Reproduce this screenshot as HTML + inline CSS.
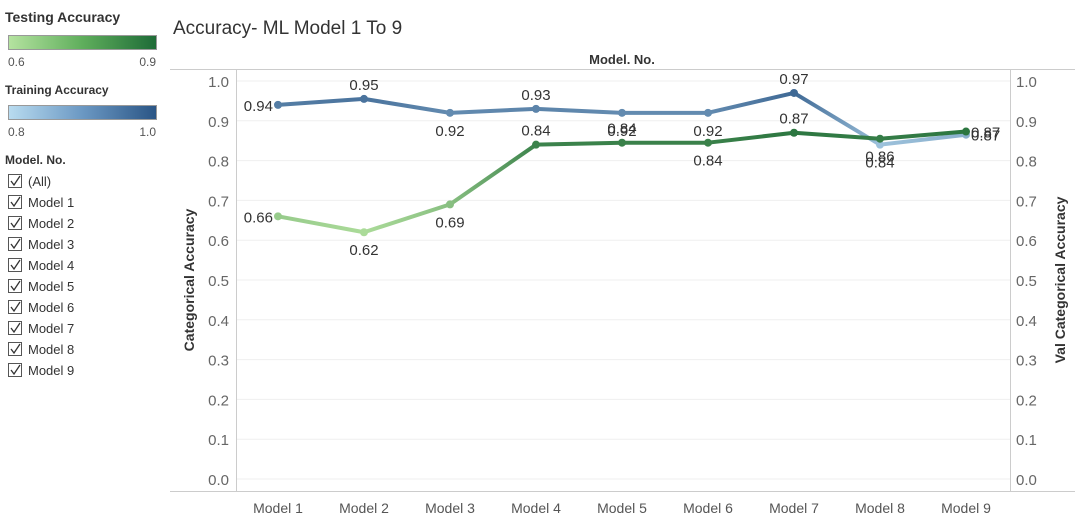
<!DOCTYPE html>
<html><head><meta charset="utf-8"><style>
body{margin:0;background:#fff;font-family:"Liberation Sans",sans-serif;}
svg text{font-family:"Liberation Sans",sans-serif;}
</style></head><body>
<svg width="1085" height="523">
<defs>
<linearGradient id="lgG" x1="0" x2="1"><stop offset="0" stop-color="#b5e3a0"/><stop offset="0.5" stop-color="#5fae5c"/><stop offset="1" stop-color="#1e6b37"/></linearGradient>
<linearGradient id="lgB" x1="0" x2="1"><stop offset="0" stop-color="#b9dcf0"/><stop offset="0.5" stop-color="#6b98c3"/><stop offset="1" stop-color="#2a5585"/></linearGradient>
</defs>
<g>
<text x="5" y="22" font-size="14" font-weight="bold" fill="#333">Testing Accuracy</text>
<rect x="8.5" y="35.5" width="148" height="14" fill="url(#lgG)" stroke="#999"/>
<text x="8" y="66" font-size="12" fill="#555">0.6</text><text x="156" y="66" font-size="12" fill="#555" text-anchor="end">0.9</text>
<text x="5" y="94" font-size="12" font-weight="bold" fill="#333">Training Accuracy</text>
<rect x="8.5" y="105.5" width="148" height="14" fill="url(#lgB)" stroke="#999"/>
<text x="8" y="136" font-size="12" fill="#555">0.8</text><text x="156" y="136" font-size="12" fill="#555" text-anchor="end">1.0</text>
<text x="5" y="164" font-size="12" font-weight="bold" fill="#333">Model.  No.</text>
<g id="filters"></g>
</g>
<text x="173" y="34" font-size="19" fill="#333">Accuracy- ML Model 1 To 9</text>
<line x1="170" y1="69.5" x2="1075" y2="69.5" stroke="#ccc"/>
<text x="622" y="64" font-size="13" font-weight="bold" fill="#333" text-anchor="middle">Model.  No.</text>
<g id="chart"></g>
<text transform="translate(194,280) rotate(-90)" font-size="14" font-weight="bold" fill="#333" text-anchor="middle">Categorical  Accuracy</text>
<text transform="translate(1065,280) rotate(-90)" font-size="14" font-weight="bold" fill="#333" text-anchor="middle">Val Categorical  Accuracy</text>
</svg>
<script>
const categories=["Model 1","Model 2","Model 3","Model 4","Model 5","Model 6","Model 7","Model 8","Model 9"];
const training=[0.94,0.955,0.92,0.93,0.92,0.92,0.97,0.84,0.865];
const testing=[0.66,0.62,0.69,0.84,0.845,0.845,0.87,0.855,0.873];
const trainingLabels=["0.94","0.95","0.92","0.93","0.92","0.92","0.97","0.84","0.87"];
const testingLabels=["0.66","0.62","0.69","0.84","0.84","0.84","0.87","0.86","0.87"];
const trainPlace=["L","A","B","A","B","B","A","B","R"];
const testPlace=["L","B","B","A","A","B","A","B","R"];
const yTicks=[0,0.1,0.2,0.3,0.4,0.5,0.6,0.7,0.8,0.9,1.0];
const NS="http://www.w3.org/2000/svg";
const g=document.getElementById('chart');
const X=i=>278+i*86;
const Y=v=>479-v*398;
function mk(t,a,p){const e=document.createElementNS(NS,t);for(const k in a)e.setAttribute(k,a[k]);(p||g).appendChild(e);return e;}
function lerp(c1,c2,t){t=Math.max(0,Math.min(1,t));const r=c1.map((c,i)=>Math.round(c+(c2[i]-c)*t));return `rgb(${r.join(',')})`;}
const gCol=v=>lerp([181,227,160],[30,107,55],(v-0.6)/0.3);
const bCol=v=>lerp([185,220,240],[42,85,133],(v-0.8)/0.2);
// grid
yTicks.forEach(t=>{
 const l=mk('line',{x1:236,x2:1010,y1:Y(t),y2:Y(t),stroke:'#efefef'});
 
 
 const a=mk('text',{x:229,y:Y(t)+6,'font-size':15,fill:'#666','text-anchor':'end'});a.textContent=t.toFixed(1);
 
 
 const b=mk('text',{x:1016,y:Y(t)+6,'font-size':15,fill:'#666'});b.textContent=t.toFixed(1);
 
 
});
mk('line',{x1:236.5,x2:236.5,y1:70,y2:491,stroke:'#ccc'});
mk('line',{x1:1010.5,x2:1010.5,y1:70,y2:491,stroke:'#ccc'});
mk('line',{x1:170,x2:1075,y1:491.5,y2:491.5,stroke:'#ccc'});
categories.forEach((c,i)=>{const t=mk('text',{x:X(i),y:513,'font-size':14,fill:'#555','text-anchor':'middle'});t.textContent=c;
 
 });
let gid=0;
function series(vals,col,labels,place,name){
 for(let i=0;i<vals.length-1;i++){
  const id='sg'+(gid++);
  const lg=mk('linearGradient',{id:id,gradientUnits:'userSpaceOnUse',x1:X(i),y1:Y(vals[i]),x2:X(i+1),y2:Y(vals[i+1])});
  mk('stop',{offset:0,'stop-color':col(vals[i])},lg);mk('stop',{offset:1,'stop-color':col(vals[i+1])},lg);
  const s=mk('line',{x1:X(i),y1:Y(vals[i]),x2:X(i+1),y2:Y(vals[i+1]),stroke:`url(#${id})`,'stroke-width':4,'stroke-linecap':'round'});
  
  
 }
 vals.forEach((v,i)=>{
  const p=mk('circle',{cx:X(i),cy:Y(v),r:4,fill:col(v)});
  
  
  let x=X(i),y=Y(v),a='middle';
  if(place[i]=='A')y-=9;else if(place[i]=='B')y+=23;else if(place[i]=='L'){x-=5;a='end';y+=6;}else{x+=5;a='start';y+=6;}
  const t=mk('text',{x:x,y:y,'font-size':15,fill:'#333','text-anchor':a});t.textContent=labels[i];
  
  
 });
}
series(training,bCol,trainingLabels,trainPlace,'training');
series(testing,gCol,testingLabels,testPlace,'testing');
// filters
const f=document.getElementById('filters');
["(All)"].concat(categories).forEach((c,i)=>{
 const y=174+i*21;
 const r=mk('rect',{x:8.5,y:y+0.5,width:13,height:13,fill:'#fff',stroke:'#555'},f);
 
 
 mk('path',{d:`M${11} ${y+7} l3 4 l6 -9`,fill:'none',stroke:'#333','stroke-width':1.3},f);
 const t=mk('text',{x:28,y:y+12,'font-size':13,fill:'#333'},f);t.textContent=c;
 
 
});
</script>
</body></html>
